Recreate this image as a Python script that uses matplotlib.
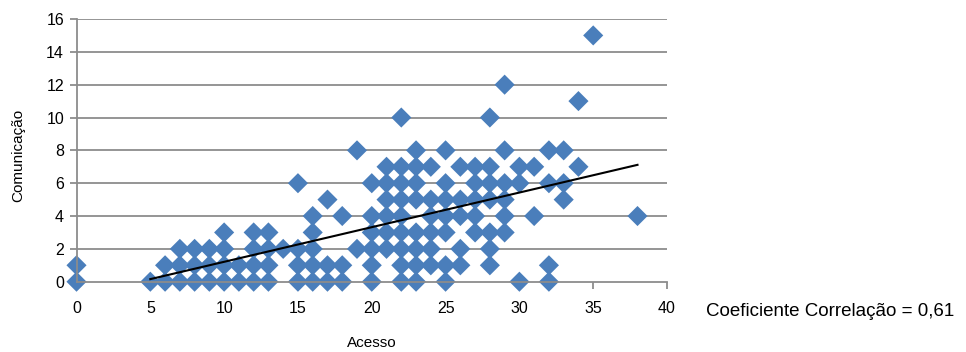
import matplotlib
matplotlib.use("Agg")
import matplotlib.pyplot as plt
import numpy as np
from matplotlib import font_manager

# Data: (Acesso, Comunicação) points
acesso_cols = [0, 5, 6, 7, 8, 9, 10, 11, 12, 13, 14, 15, 16, 17, 18, 19, 20,
               21, 22, 23, 24, 25, 26, 27, 28, 29, 30, 31, 32, 33, 34, 35, 38]
comunicacao_cols = [
    [0, 1],
    [0],
    [0, 1],
    [0, 1, 2],
    [0, 1, 2],
    [0, 1, 2],
    [0, 1, 2, 3],
    [0, 1],
    [0, 1, 2, 3],
    [0, 1, 2, 3],
    [2],
    [0, 1, 2, 6],
    [0, 1, 2, 3, 4],
    [0, 1, 5],
    [0, 1, 4],
    [2, 8],
    [0, 1, 2, 3, 4, 6],
    [2, 3, 4, 5, 6, 7],
    [0, 1, 2, 3, 4, 5, 6, 7, 10],
    [0, 1, 2, 3, 5, 6, 7, 8],
    [1, 2, 3, 4, 5, 7],
    [0, 1, 3, 4, 5, 6, 8],
    [1, 2, 4, 5, 7],
    [3, 4, 5, 6, 7],
    [1, 2, 3, 5, 6, 7, 10],
    [3, 4, 5, 6, 8, 12],
    [0, 6, 7],
    [4, 7],
    [0, 1, 6, 8],
    [5, 6, 8],
    [7, 11],
    [15],
    [4],
]
x_ticks = [0, 5, 10, 15, 20, 25, 30, 35, 40]
y_ticks = [0, 2, 4, 6, 8, 10, 12, 14, 16]
annotation = "Coeficiente Correlação = 0,61"

xs = np.array([x for x, ys in zip(acesso_cols, comunicacao_cols) for _ in ys], float)
ys = np.array([y for ys_ in comunicacao_cols for y in ys_], float)

avail = {f.name for f in font_manager.fontManager.ttflist}
fam = "Liberation Sans Narrow" if "Liberation Sans Narrow" in avail else "Liberation Sans"
plt.rcParams['font.family'] = [fam, 'DejaVu Sans']

fig = plt.figure(figsize=(9.66, 3.52), dpi=100)
ax = fig.add_axes([0.0792, 0.1997, 0.6113, 0.7463])

grid_c = "#8c8c8c"
for yv in y_ticks[1:]:
    ax.axhline(yv, color=grid_c, lw=1.3, zorder=0)

ax.scatter(xs, ys, marker='D', s=105, color='#4a7ebb', edgecolors='none', zorder=2, clip_on=False)

# linear trendline
k, b = np.polyfit(xs, ys, 1)
tx = np.array([xs[xs > 0].min(), xs.max()])
ax.plot(tx, k * tx + b, color='black', lw=1.5, zorder=3)

ax.set_xlim(0, 40)
ax.set_ylim(0, 16)
ax.set_xticks(x_ticks)
ax.set_yticks(y_ticks)
for s in ['top', 'right']:
    ax.spines[s].set_visible(False)
for s in ['left', 'bottom']:
    ax.spines[s].set_color(grid_c)
    ax.spines[s].set_linewidth(1.3)
ax.tick_params(axis='both', colors=grid_c, length=5, width=1.3, labelcolor='black', labelsize=11.5)
ax.tick_params(axis='x', pad=9)
ax.tick_params(axis='y', pad=4)
ax.set_xlabel("Acesso", fontsize=11, labelpad=14)
ax.set_ylabel("Comunicação", fontsize=11)
ax.yaxis.set_label_coords(-0.086, 0.48)

fig.text(706 / 966, 1 - 312 / 352, annotation, fontsize=13.5, va='center', ha='left')

fig.savefig("out.png", dpi=100)
